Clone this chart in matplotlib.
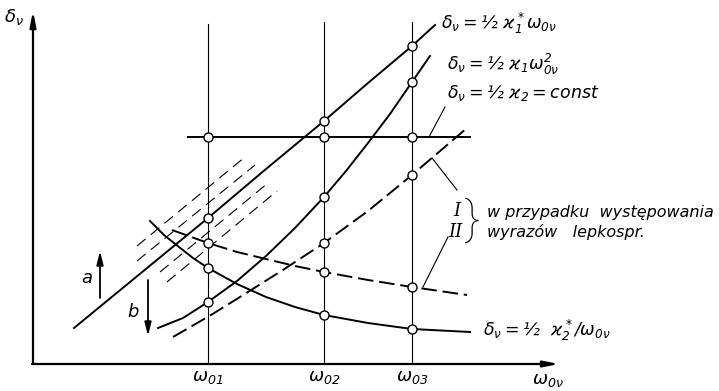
import matplotlib
matplotlib.use("Agg")
import matplotlib.pyplot as plt

plt.rcParams['font.family'] = ['DejaVu Sans']
plt.rcParams['mathtext.fontset'] = 'custom'
plt.rcParams['mathtext.it'] = 'DejaVu Sans:italic'
plt.rcParams['mathtext.rm'] = 'DejaVu Sans:italic'
plt.rcParams['mathtext.sf'] = 'DejaVu Sans:italic'

# ---- data (chart units: omega to the right, delta upward) ----
omega_ticks = [176, 292, 380]
omega_labels = [r'$\omega_{01}$', r'$\omega_{02}$', r'$\omega_{03}$']
vline_tops = [339, 341, 341]

# delta = 1/2 k1* omega  (solid, nearly straight)
c1_x = [42, 109, 176, 234, 292, 336, 380, 403]
c1_y = [35, 90, 145, 194, 242, 280, 317, 338]

# delta = 1/2 k1 omega^2  (solid parabola)
c2_x = [126, 151, 176, 205, 234, 263, 292, 314, 336, 358, 380, 398]
c2_y = [35, 45, 61, 82, 107, 135, 166, 192, 220, 249, 281, 307]

# delta = 1/2 k2* / omega  (solid, decreasing)
c3_x = [118, 132, 147, 161, 176, 205, 234, 263, 292, 336, 380, 438]
c3_y = [142, 128, 116, 105, 95, 79, 66, 56, 48, 40, 34, 31]

# dashed I (increasing) and dashed II (decreasing)
dI_x = [141, 179, 216, 254, 292, 336, 380, 435]
dI_y = [26, 48, 71, 95, 120, 152, 188, 235]
dII_x = [140, 176, 205, 234, 263, 292, 336, 380, 435]
dII_y = [133, 120, 111, 104, 97, 91, 83, 76, 68]

# delta = 1/2 k2 = const
const_y = 226
const_x = [156, 438]

# band of thin dashed lines around curve 1
band_x = [[105, 213], [105, 223], [128, 236], [135, 245]]
band_y = [[117, 206], [102, 198], [91, 180], [81, 172]]

# circles on the omega verticals
pts_w01 = [226, 145, 120, 95, 61]
pts_w02 = [242, 226, 166, 120, 91, 48]
pts_w03 = [317, 281, 226, 188, 76, 34]

fig = plt.figure(figsize=(7.19, 3.91), dpi=100)
ax = fig.add_axes([0, 0, 1, 1])
ax.set_xlim(-32, 687)
ax.set_ylim(-28, 363)
ax.axis('off')

K = 'black'
# axes with arrows
ax.annotate('', xy=(1, 352), xytext=(1, -1),
            arrowprops=dict(arrowstyle='-|>,head_length=0.9,head_width=0.18', lw=1.6, color=K, shrinkA=0, shrinkB=0))
ax.annotate('', xy=(527, -1), xytext=(0, -1),
            arrowprops=dict(arrowstyle='-|>,head_length=0.9,head_width=0.18', lw=1.6, color=K, shrinkA=0, shrinkB=0))

# verticals
for xv, top in zip(omega_ticks, vline_tops):
    ax.plot([xv, xv], [0, top], color=K, lw=0.8)

# curves
ax.plot(c1_x, c1_y, color=K, lw=1.4)
ax.plot(c2_x, c2_y, color=K, lw=1.4)
ax.plot(c3_x, c3_y, color=K, lw=1.4)
ax.plot(const_x, [const_y, const_y], color=K, lw=1.4)
ax.plot(dI_x, dI_y, color=K, lw=1.4, dashes=(8, 3))
ax.plot(dII_x, dII_y, color=K, lw=1.4, dashes=(8, 3))
for bx, by in zip(band_x, band_y):
    ax.plot(bx, by, color=K, lw=0.8, dashes=(10, 6))

# circles
for xv, ys in zip(omega_ticks, [pts_w01, pts_w02, pts_w03]):
    ax.plot([xv] * len(ys), ys, 'o', ms=6.5, mfc='white', mec=K, mew=1.0, ls='none', zorder=5)

# tick labels
for xv, lab in zip(omega_ticks, omega_labels):
    ax.text(xv, -14, lab, ha='center', va='center', fontsize=13)
ax.text(516, -17, r'$\omega_{0\nu}$', ha='center', va='center', fontsize=13)
ax.text(-18, 346, r'$\delta_\nu$', ha='center', va='center', fontsize=13)

# curve labels
fs = 12.5
ax.text(409, 340, r'$\delta_\nu = ½\ \varkappa_1^*\omega_{0\nu}$', ha='left', va='center', fontsize=fs)
ax.text(415, 299, r'$\delta_\nu = ½\ \varkappa_1\omega_{0\nu}^2$', ha='left', va='center', fontsize=fs)
ax.text(415, 270, r'$\delta_\nu = ½\ \varkappa_2 = const$', ha='left', va='center', fontsize=fs)
ax.text(451, 33, r'$\delta_\nu = ½\ \ \varkappa_2^*/\omega_{0\nu}$', ha='left', va='center', fontsize=fs)

# leaders
ax.plot([397, 413], [226, 256], color=K, lw=0.8)
ax.plot([400, 425], [205, 173], color=K, lw=0.8)
ax.plot([391, 416], [76, 126], color=K, lw=0.8)

ax.text(425, 152, 'I', ha='center', va='center', fontsize=13, family='DejaVu Serif', style='italic')
ax.text(423, 131, 'II', ha='center', va='center', fontsize=13, family='DejaVu Serif', style='italic')
ax.text(440, 143, '}', ha='center', va='center', fontsize=34, family='Roboto', fontweight='light')
ax.text(455, 151, 'w przypadku  występowania', ha='left', va='center', fontsize=11.5, style='italic')
ax.text(455, 131, 'wyrazów   lepkospr.', ha='left', va='center', fontsize=11.5, style='italic')

# a / b arrows
ax.annotate('', xy=(68, 112), xytext=(68, 65),
            arrowprops=dict(arrowstyle='-|>,head_length=0.8,head_width=0.2', lw=1.3, color=K, shrinkA=0, shrinkB=0))
ax.annotate('', xy=(116, 27), xytext=(116, 83),
            arrowprops=dict(arrowstyle='-|>,head_length=0.8,head_width=0.2', lw=1.3, color=K, shrinkA=0, shrinkB=0))
ax.text(55, 85, r'$a$', ha='center', va='center', fontsize=13)
ax.text(101, 51, r'$b$', ha='center', va='center', fontsize=13)

fig.savefig('out.png', dpi=100)
